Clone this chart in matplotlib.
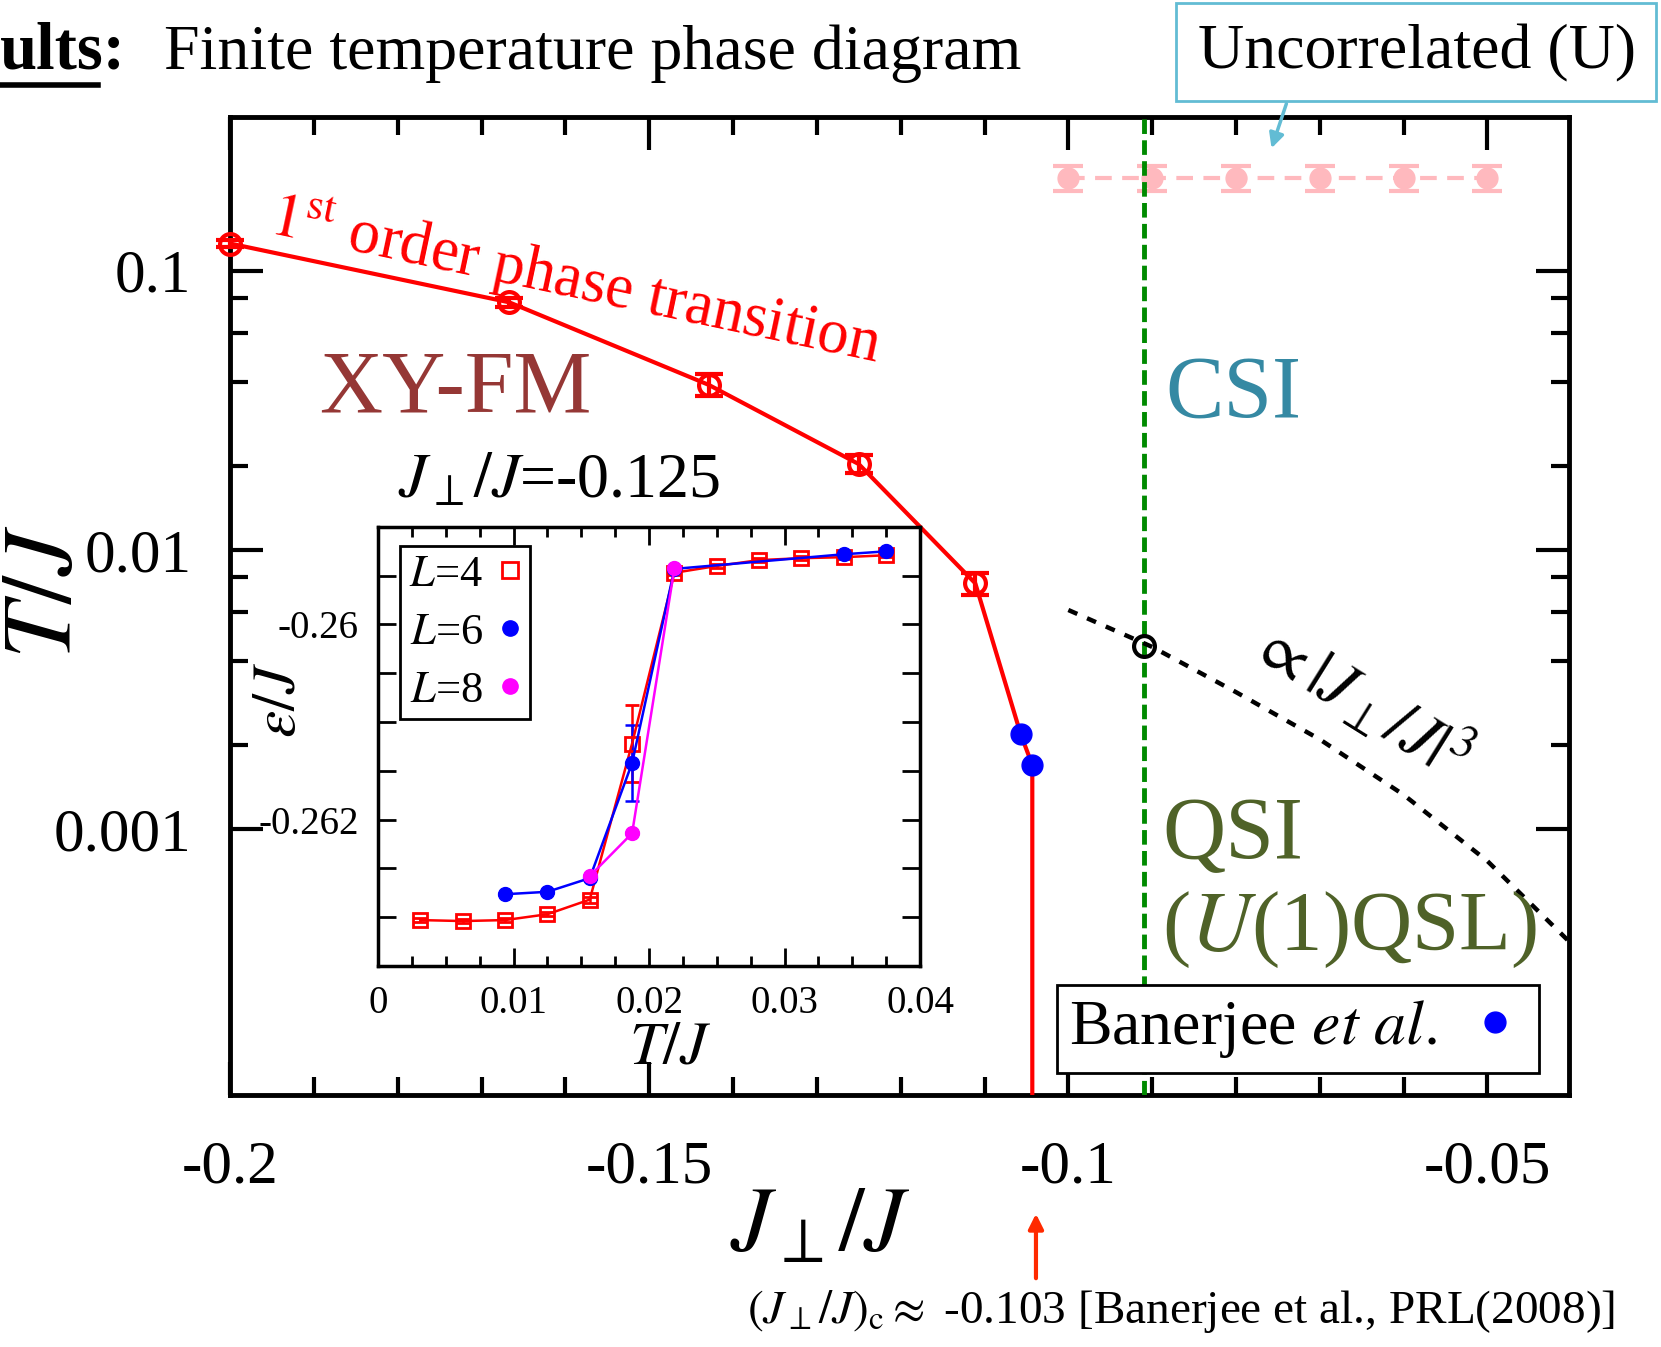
import matplotlib
matplotlib.use('Agg')
import matplotlib.pyplot as plt
from matplotlib.ticker import FixedLocator, MultipleLocator, NullFormatter
from matplotlib.patches import Rectangle, FancyArrowPatch
from matplotlib.lines import Line2D

plt.rcParams['font.family'] = ['Liberation Serif', 'DejaVu Serif']
plt.rcParams['mathtext.fontset'] = 'stix'
plt.rcParams['axes.unicode_minus'] = False

# ---- main diagram data ----
# first order boundary (open red circles)
jperp = [-0.2, -0.1667, -0.1429, -0.125, -0.1111]
tc = [0.125, 0.077, 0.039, 0.0203, 0.0076]
tc_err = [0.004, 0.003, 0.0035, 0.0015, 0.0007]

# Banerjee et al. (blue dots)
ban_x = [-0.1057, -0.1043]
ban_T = [0.0022, 0.0017]

# red boundary continues through Banerjee points and drops to T -> 0
line_x = jperp + ban_x + [-0.1043]
line_T = tc + ban_T + [1e-5]

# uncorrelated crossover (pink)
unc_x = [-0.10, -0.09, -0.08, -0.07, -0.06, -0.05]
unc_T = [0.215, 0.215, 0.215, 0.215, 0.215, 0.215]
unc_err = [0.022, 0.022, 0.022, 0.022, 0.022, 0.022]

# QSI crossover  ~ |J_perp/J|^3 (dotted)
qsi_x = [-0.10, -0.09, -0.08, -0.07, -0.06, -0.05, -0.04]
qsi_T = [0.0061, 0.0045, 0.0031, 0.0021, 0.00133, 0.00077, 0.00039]
qsi_pt_x = [-0.091]
qsi_pt_T = [0.00455]
csi_x = -0.091

xticks = [-0.2, -0.15, -0.1, -0.05]
xticklabels = ['-0.2', '-0.15', '-0.1', '-0.05']
yticks = [0.1, 0.01, 0.001]
yticklabels = ['0.1', '0.01', '0.001']
yminor = [0.08, 0.06, 0.04, 0.02, 0.008, 0.006, 0.004, 0.002]

# ---- inset data: energy vs T at J_perp/J = -0.125 ----
T4 = [0.003125, 0.00625, 0.009375, 0.0125, 0.015625, 0.01875, 0.021875,
      0.025, 0.028125, 0.03125, 0.034375, 0.0375]
e4 = [-0.26303, -0.26304, -0.26303, -0.26297, -0.26282, -0.26122, -0.25947,
      -0.2594, -0.25934, -0.25932, -0.25931, -0.25929]
e4_err = [0.00002, 0.00002, 0.00002, 0.00002, 0.00003, 0.00039, 0.00002,
          0.00002, 0.00002, 0.00002, 0.00002, 0.00002]
T6 = [0.009375, 0.0125, 0.015625, 0.01875, 0.021875, 0.034375, 0.0375]
e6 = [-0.262765, -0.26274, -0.2626, -0.26142, -0.25943, -0.25928, -0.25925]
e6_err = [0.00001, 0.00001, 0.00001, 0.00039, 0.00001, 0.00001, 0.00001]
T8 = [0.015625, 0.01875, 0.021875]
e8 = [-0.26258, -0.26214, -0.25942]
e8_err = [0.00001, 0.00001, 0.00001]

in_xticks = [0, 0.01, 0.02, 0.03, 0.04]
in_xticklabels = ['0', '0.01', '0.02', '0.03', '0.04']
in_yticks = [-0.26, -0.262]
in_yticklabels = ['-0.26', '-0.262']

fig = plt.figure(figsize=(16.61, 13.47), dpi=100)
ax = fig.add_axes([0.1385, 0.187, 0.806, 0.726])

ax.plot(line_x, line_T, '-', color='red', lw=3, zorder=3)
eb = ax.errorbar(jperp, tc, yerr=tc_err, fmt='o', color='red', mfc='none', ms=15,
                 mew=3, elinewidth=3, capsize=10, capthick=3, zorder=4)
for art in eb.get_children():
    art.set_clip_on(False)
ax.plot(ban_x, ban_T, 'o', color='blue', ms=15, zorder=5)

ax.errorbar(unc_x, unc_T, yerr=unc_err, fmt='o', ls=(0, (4, 2.5)), color='#FFB9BE',
            ms=15, lw=3, elinewidth=3, capsize=11, capthick=3, zorder=2)
ax.axvline(csi_x, color='#008A00', lw=3.5, ls=(0, (3, 1.3)), zorder=3)
ax.plot(qsi_x, qsi_T, color='black', lw=3.2, ls=(0, (2.2, 2.4)), zorder=3)
ax.plot(qsi_pt_x, qsi_pt_T, 'o', mfc='none', mec='black', mew=3, ms=15, zorder=4)

ax.set_yscale('log')
ax.set_xlim(-0.2, -0.0403)
ax.set_ylim(1.12e-4, 0.354)
ax.xaxis.set_major_locator(FixedLocator(xticks))
ax.set_xticklabels(xticklabels)
ax.xaxis.set_minor_locator(MultipleLocator(0.01))
ax.yaxis.set_major_locator(FixedLocator(yticks))
ax.set_yticklabels(yticklabels)
ax.yaxis.set_minor_locator(FixedLocator(yminor))
ax.yaxis.set_minor_formatter(NullFormatter())
ax.tick_params(which='both', direction='in', top=True, right=True, width=3)
ax.tick_params(which='major', length=24, labelsize=44)
ax.tick_params(axis='x', which='major', pad=32)
ax.tick_params(axis='y', which='major', pad=28)
ax.tick_params(which='minor', length=13)
for s in ax.spines.values():
    s.set_linewidth(3.5)

leg = ax.legend(handles=[Line2D([], [], ls='none', marker='o', color='blue', ms=15)],
                labels=[r'Banerjee $et\ al.$'], loc='lower right',
                bbox_to_anchor=(0.978, 0.0227), borderaxespad=0, fontsize=46,
                markerfirst=False, fancybox=False, framealpha=1, handlelength=1,
                handletextpad=0.4, borderpad=0.2)
leg.get_frame().set_edgecolor('black')
leg.get_frame().set_linewidth(2)

# region labels
ax.text(-0.1731, 0.0373, 'XY-FM', color='#953735', fontsize=63, ha='center', va='center')
ax.text(-0.0803, 0.036, 'CSI', color='#3589A3', fontsize=63, ha='center', va='center')
ax.text(-0.0888, 0.00094, 'QSI', color='#4F6228', fontsize=63, ha='left', va='center')
ax.text(-0.0888, 0.000436, r'($\mathit{U}$(1)QSL)', color='#4F6228', fontsize=61,
        ha='left', va='center')
ax.text(-0.1955, 0.136, r'$\mathit{1}^{\mathrm{st}}$ order phase transition', color='red',
        fontsize=45, rotation=-12, rotation_mode='anchor', ha='left', va='baseline')
ax.text(-0.18, 0.01535, r'$J_\perp/J$=-0.125', fontsize=46, ha='left', va='baseline')
ax.text(-0.0652, 0.00292, r'$\propto|J_\perp/J|^3$', fontsize=48, rotation=-32,
        ha='center', va='center', rotation_mode='anchor')

# axis labels
fig.text(0.494, 0.088, r'$J_\perp/J$', fontsize=66, ha='center', va='center')
fig.text(0.028, 0.561, r'$T/J$', fontsize=72, ha='center', va='center', rotation=90)

# ---- inset ----
ins = fig.add_axes([0.2276, 0.2829, 0.3263, 0.3259])
ins.set_zorder(6)
ins.errorbar(T4, e4, yerr=e4_err, fmt='s-', color='red', mfc='none', ms=10, mew=2,
             lw=1.8, elinewidth=1.8, capsize=5, capthick=1.8)
ins.errorbar(T6, e6, yerr=e6_err, fmt='o-', color='blue', ms=10, lw=1.8,
             elinewidth=1.8, capsize=5, capthick=1.8)
ins.errorbar(T8, e8, yerr=e8_err, fmt='o-', color='magenta', ms=10, lw=1.8,
             elinewidth=1.8, capsize=5, capthick=1.8)
ins.set_xlim(0, 0.04)
ins.set_ylim(-0.2635, -0.259)
ins.xaxis.set_major_locator(FixedLocator(in_xticks))
ins.set_xticklabels(in_xticklabels)
ins.xaxis.set_minor_locator(MultipleLocator(0.0025))
ins.yaxis.set_major_locator(FixedLocator(in_yticks))
ins.set_yticklabels(in_yticklabels)
ins.yaxis.set_minor_locator(MultipleLocator(0.0005))
ins.tick_params(which='both', direction='in', top=True, right=True, width=2)
ins.tick_params(which='major', length=13, labelsize=28, pad=14)
ins.tick_params(which='minor', length=7)
ins.tick_params(axis='y', which='minor', length=13)
for s in ins.spines.values():
    s.set_linewidth(2.5)
ins.set_xlabel(r'$T/J$', fontsize=44)
ins.xaxis.set_label_coords(0.54, -0.125)
ins.set_ylabel(r'$\varepsilon/J$', fontsize=44)
ins.yaxis.set_label_coords(-0.13, 0.606)
in_handles = [Line2D([], [], ls='none', marker='s', color='red', mfc='none', mew=2, ms=11),
              Line2D([], [], ls='none', marker='o', color='blue', ms=11),
              Line2D([], [], ls='none', marker='o', color='magenta', ms=11)]
ileg = ins.legend(in_handles, [r'$L$=4', r'$L$=6', r'$L$=8'], loc='upper left',
                  bbox_to_anchor=(0.041, 0.957), borderaxespad=0,
                  fontsize=32, markerfirst=False, fancybox=False, framealpha=1,
                  handlelength=0.5, handletextpad=0.35, borderpad=0.2, labelspacing=0.4)
ileg.get_frame().set_edgecolor('black')
ileg.get_frame().set_linewidth(2)

# ---- header ----
fig.text(0.0, 0.949, 'ults:', fontsize=48, fontweight='bold', ha='left', va='baseline')
fig.add_artist(Line2D([0, 0.059], [0.937, 0.937], color='black', lw=4))
fig.text(0.0989, 0.949, 'Finite temperature phase diagram', fontsize=46,
         ha='left', va='baseline')
fig.add_artist(Rectangle((0.708, 0.925), 0.289, 0.073, transform=fig.transFigure,
                         fill=False, edgecolor='#62BCD4', lw=2))
fig.text(0.853, 0.96, 'Uncorrelated (U)', fontsize=46, ha='center', va='center')
fig.add_artist(FancyArrowPatch((0.775, 0.925), (0.765, 0.888), transform=fig.transFigure,
                               arrowstyle='-|>', mutation_scale=22, color='#62BCD4', lw=2.5))

# ---- footer ----
fig.add_artist(FancyArrowPatch((0.6237, 0.049), (0.6237, 0.101), transform=fig.transFigure,
                               arrowstyle='-|>', mutation_scale=22, color='#FF2A00', lw=3))
fig.text(0.45, 0.0267, r'$(J_\perp/J)_{\rm c}\approx$ -0.103 [Banerjee et al., PRL(2008)]',
         fontsize=34, ha='left', va='center')

fig.savefig('out.png', dpi=100)
